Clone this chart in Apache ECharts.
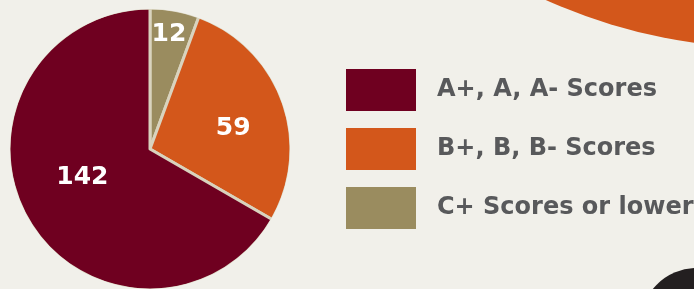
<!DOCTYPE html>
<html>
<head>
<meta charset="utf-8">
<script src="https://cdn.jsdelivr.net/npm/echarts@6/dist/echarts.min.js"></script>
<style>
  html, body { margin: 0; padding: 0; background: #f1f0ea; }
  #chart { width: 694px; height: 289px; }
</style>
</head>
<body>
<div id="chart"></div>
<script>
const categories = ["C+ Scores or lower", "B+, B, B- Scores", "A+, A, A- Scores"];
const counts = [12, 59, 142];
const legendOrder = ["A+, A, A- Scores", "B+, B, B- Scores", "C+ Scores or lower"];

const background = "#f1f0ea";
const maroon = "#6f0020";
const orange = "#d3571b";
const olive = "#9a8c5f";
const seam = "#d9d3be";
const legendText = "#58595b";
const sliceColors = [olive, orange, maroon];
// nudges from the default "inside" label spot, per slice
const labelShift = [[6, -42], [14, 4], [-4, -8]];

const pieCenter = [150, 149];
const pieRadius = 141;

const chart = echarts.init(document.getElementById("chart"), null, { renderer: "canvas" });

chart.setOption({
  backgroundColor: background,
  animation: false,
  textStyle: { fontFamily: "DejaVu Sans" },
  graphic: [
    {
      type: "circle",
      shape: { cx: 770, cy: -500, r: 548 },
      style: { fill: orange },
      silent: true,
      z: 0,
    },
    {
      type: "circle",
      shape: { cx: 697, cy: 325, r: 57 },
      style: { fill: "#231f20" },
      silent: true,
      z: 0,
    },
    {
      // hide the outer rim of the slice border, seams only
      type: "ring",
      shape: { cx: pieCenter[0], cy: pieCenter[1], r0: pieRadius - 1, r: pieRadius + 3 },
      style: { fill: background },
      silent: true,
      z: 10,
    },
  ],
  legend: {
    data: legendOrder,
    orient: "vertical",
    left: 346,
    top: 69,
    padding: 0,
    itemWidth: 70,
    itemHeight: 42,
    itemGap: 17,
    icon: "rect",
    selectedMode: false,
    itemStyle: { borderWidth: 0 },
    textStyle: {
      color: legendText,
      fontFamily: "DejaVu Sans",
      fontWeight: "bold",
      fontSize: 24,
      lineHeight: 26,
      padding: [6, 0, 0, 16],
    },
  },
  series: [
    {
      type: "pie",
      center: pieCenter,
      radius: pieRadius,
      startAngle: 90,
      clockwise: true,
      silent: true,
      avoidLabelOverlap: false,
      itemStyle: { borderColor: seam, borderWidth: 3 },
      label: {
        show: true,
        position: "inside",
        formatter: "{c}",
        color: "#ffffff",
        fontFamily: "DejaVu Sans",
        fontWeight: "bold",
        fontSize: 25,
      },
      labelLine: { show: false },
      labelLayout: (params) => ({
        dx: labelShift[params.dataIndex][0],
        dy: labelShift[params.dataIndex][1],
      }),
      data: categories.map((name, i) => ({
        name,
        value: counts[i],
        itemStyle: { color: sliceColors[i] },
      })),
    },
  ],
});
</script>
</body>
</html>
